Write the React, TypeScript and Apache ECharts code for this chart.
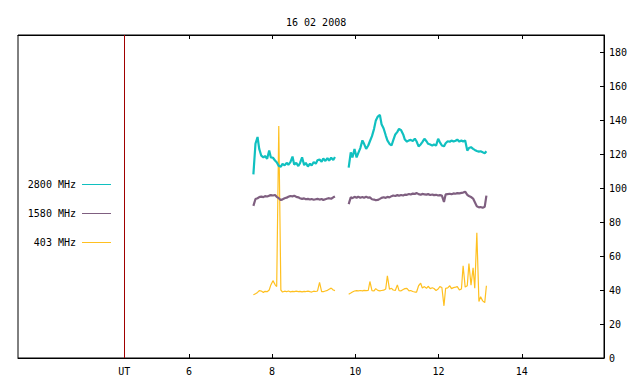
import React, { useEffect, useRef } from "react";
import * as echarts from "echarts";

const TITLE = "16 02 2008";
const SERIES_NAMES = ["2800 MHz", "1580 MHz", "403 MHz"];
const COLORS = ["#10c0c0", "#7f5f80", "#ffc020"];
const UT_LINE = 4.447;
const X_MIN = 1.893;
const X_MAX = 15.976;
const X_TICKS = [6, 8, 10, 12, 14];

// time (UT hours) of the samples, first and second observing runs
const t1 = [7.55, 7.6, 7.65, 7.69, 7.74, 7.79, 7.83, 7.88, 7.93, 7.97, 8.02, 8.07, 8.11, 8.16, 8.21, 8.25, 8.3, 8.35, 8.39, 8.44, 8.49, 8.53, 8.58, 8.63, 8.67, 8.72, 8.77, 8.81, 8.86, 8.91, 8.95, 9.0, 9.05, 9.09, 9.14, 9.19, 9.23, 9.28, 9.33, 9.37, 9.42, 9.47, 9.51];
const t2 = [9.84, 9.89, 9.93, 9.98, 10.03, 10.07, 10.12, 10.17, 10.21, 10.26, 10.31, 10.35, 10.4, 10.45, 10.49, 10.54, 10.59, 10.63, 10.68, 10.73, 10.77, 10.82, 10.87, 10.91, 10.96, 11.01, 11.05, 11.1, 11.15, 11.19, 11.24, 11.29, 11.33, 11.38, 11.43, 11.47, 11.52, 11.57, 11.61, 11.66, 11.71, 11.75, 11.8, 11.85, 11.89, 11.94, 11.99, 12.03, 12.08, 12.13, 12.17, 12.22, 12.27, 12.31, 12.36, 12.41, 12.45, 12.5, 12.55, 12.59, 12.64, 12.69, 12.73, 12.78, 12.83, 12.87, 12.92, 12.97, 13.01, 13.06, 13.11, 13.15];

const f2800a = [108, 126, 130, 123, 119, 118, 118.8, 117.2, 122, 118, 117.8, 116.2, 115.2, 113, 112.6, 114.2, 113.3, 114.8, 113.7, 115.2, 118.5, 113.8, 114.8, 112.9, 114.6, 118, 113.4, 114.8, 112.6, 114.3, 113.2, 115.3, 114.3, 116.3, 116.8, 115.4, 117.3, 115.9, 117.6, 116.1, 117.8, 116.5, 118.2];
const f2800b = [112, 121, 118, 123, 118, 120.5, 123.5, 128, 126, 123, 125, 127.5, 130.5, 134.8, 139.5, 142, 143, 137.5, 135, 131, 128, 126, 125, 128, 131.5, 133, 134.8, 134, 131.5, 128.5, 127.3, 128, 128.3, 127.6, 129, 127.5, 124.5, 125.6, 127, 129, 127.5, 126, 125.6, 124.9, 125.6, 124.9, 129, 127, 125, 124.5, 126.3, 127.5, 127.2, 127.9, 127.3, 127.8, 128.5, 127.3, 127.9, 127.4, 127.9, 122, 123.5, 124, 123, 122.4, 121.8, 121.4, 121.6, 121, 120.5, 121.6];

const f1580a = [89.5, 93.5, 94, 94.6, 94.9, 94.6, 95.2, 95, 95.5, 95.8, 95.6, 95.9, 94.8, 94, 92.9, 93.3, 94, 94.3, 94.8, 95.3, 95.1, 95.4, 94.8, 94.5, 94, 93.6, 93.9, 93.4, 93.6, 93.2, 93.5, 93.1, 93.4, 93.6, 93.2, 93.5, 93, 93.4, 93.8, 94, 93.7, 94.5, 95];
const f1580b = [90.5, 94.5, 94, 94.8, 94.2, 94.9, 94.3, 94.7, 94.2, 94.8, 94.3, 94.5, 93.4, 93.2, 92.8, 93, 93.6, 94.2, 94.6, 94.2, 94.8, 94.5, 95.2, 95.6, 95.3, 95.8, 95.4, 95.9, 95.6, 96.1, 96, 96.5, 96.2, 96.7, 96.5, 97, 96.4, 96, 96.5, 96.3, 96.1, 96.4, 95.9, 96.2, 95.8, 96, 95.6, 95.8, 95.5, 91.8, 96.2, 96.4, 96.6, 96.3, 96.8, 96.6, 97, 96.8, 97.1, 97.3, 97.8, 96, 95.3, 94.7, 93.8, 91.8, 89.2, 88.6, 88.8, 88.4, 89, 95.5];

const f403a = [37.2, 37.8, 38.6, 39.6, 39.4, 38.6, 39.2, 39, 40, 43, 45.5, 43.2, 42, 136.4, 40, 38.8, 39.3, 39, 39.4, 38.9, 39.2, 39, 39.3, 39, 39.2, 38.9, 39.2, 39.1, 39.3, 39, 38.8, 39.3, 39.1, 39.4, 44.5, 39.1, 39, 39.4, 39.8, 40.4, 41.1, 40, 39.6];
const f403b = [37.5, 38.2, 38.8, 39.4, 39.6, 39.5, 39.7, 39.5, 39.8, 39.6, 39.7, 45, 39.6, 39.5, 40.8, 39.8, 39.5, 39.7, 39.9, 40.6, 48.4, 40.5, 41, 40, 39.7, 43, 39.6, 39.5, 40.3, 40.8, 41, 39.5, 39.7, 39.1, 38.8, 38.7, 42.5, 44, 41.2, 42, 41, 42.2, 40.8, 41.3, 40.9, 39.7, 40.6, 42, 41.5, 30.7, 41, 41.2, 42.5, 40.8, 41.4, 41.7, 42, 40.1, 40.6, 54.3, 41.7, 42.5, 55.5, 42.8, 53, 41, 73.6, 33.2, 36, 33.6, 32.6, 42.5];

const FONT = "DejaVu Sans Mono";

function buildData(a: number[], b: number[]) {
  const out: any[] = [];
  t1.forEach((t, i) => out.push([t, a[i]]));
  out.push([(t1[t1.length - 1] + t2[0]) / 2, "-"]);
  t2.forEach((t, i) => out.push([t, b[i]]));
  return out;
}

export default function App() {
  const ref = useRef<HTMLDivElement>(null);
  useEffect(() => {
    document.body.style.margin = "0";
    const chart = echarts.init(ref.current!, null, { renderer: "svg" });
    const seriesValues = [
      [f2800a, f2800b],
      [f1580a, f1580b],
      [f403a, f403b],
    ];
    const legendY = [184.5, 213.5, 242.5];
    const graphic: any[] = [];
    SERIES_NAMES.forEach((n, i) => {
      graphic.push({
        type: "text",
        x: 76,
        y: legendY[i],
        style: {
          text: n,
          textAlign: "right",
          textVerticalAlign: "middle",
          font: `10px "${FONT}"`,
          fill: "#000",
        },
      });
      graphic.push({
        type: "line",
        shape: { x1: 82, y1: legendY[i], x2: 111, y2: legendY[i] },
        style: { stroke: COLORS[i], lineWidth: 1 },
      });
    });
    const baseX = {
      type: "value",
      min: X_MIN,
      max: X_MAX,
      splitLine: { show: false },
    };
    chart.setOption({
      animation: false,
      backgroundColor: "#fff",
      title: {
        text: TITLE,
        left: 281,
        top: 12,
        textStyle: { fontFamily: FONT, fontSize: 10, fontWeight: "normal", color: "#000" },
      },
      grid: {
        left: 18,
        top: 35,
        width: 586,
        height: 323,
        show: true,
        borderColor: "#000",
        borderWidth: 1,
      },
      xAxis: [
        {
          ...baseX,
          position: "bottom",
          axisLine: { show: true, onZero: false, lineStyle: { color: "#000" } },
          axisTick: { show: true, inside: true, length: 4, customValues: X_TICKS, lineStyle: { color: "#000" } },
          axisLabel: {
            show: true,
            customValues: [UT_LINE, ...X_TICKS],
            formatter: (v: number) => (Math.abs(v - UT_LINE) < 0.01 ? "UT" : String(v)),
            fontFamily: FONT,
            fontSize: 10,
            color: "#000",
            margin: 8,
          },
        },
        {
          ...baseX,
          position: "top",
          axisLine: { show: true, onZero: false, lineStyle: { color: "#000" } },
          axisTick: { show: true, inside: true, length: 4, customValues: X_TICKS, lineStyle: { color: "#000" } },
          axisLabel: { show: false },
        },
      ],
      yAxis: {
        type: "value",
        position: "right",
        min: 0,
        max: 190,
        interval: 20,
        axisLine: { show: true, onZero: false, lineStyle: { color: "#000" } },
        axisTick: { show: true, inside: true, length: 4, lineStyle: { color: "#000" } },
        axisLabel: {
          fontFamily: FONT,
          fontSize: 10,
          color: "#000",
          margin: 5,
          showMaxLabel: false,
        },
        splitLine: { show: false },
      },
      graphic,
      series: SERIES_NAMES.map((n, i) => ({
        name: n,
        type: "line",
        xAxisIndex: 0,
        data: buildData(seriesValues[i][0], seriesValues[i][1]),
        showSymbol: false,
        symbol: "none",
        connectNulls: false,
        lineStyle: { color: COLORS[i], width: i === 2 ? 1.2 : 2.2 },
        itemStyle: { color: COLORS[i] },
        z: 3 - i,
        markLine:
          i === 0
            ? {
                silent: true,
                symbol: ["none", "none"],
                label: { show: false },
                lineStyle: { color: "#a00000", width: 1, type: "solid" },
                data: [{ xAxis: UT_LINE }],
              }
            : undefined,
      })),
    });
    return () => chart.dispose();
  }, []);
  return (
    <div
      ref={ref}
      style={{ position: "fixed", left: 0, top: 0, width: 640, height: 384 }}
    />
  );
}
